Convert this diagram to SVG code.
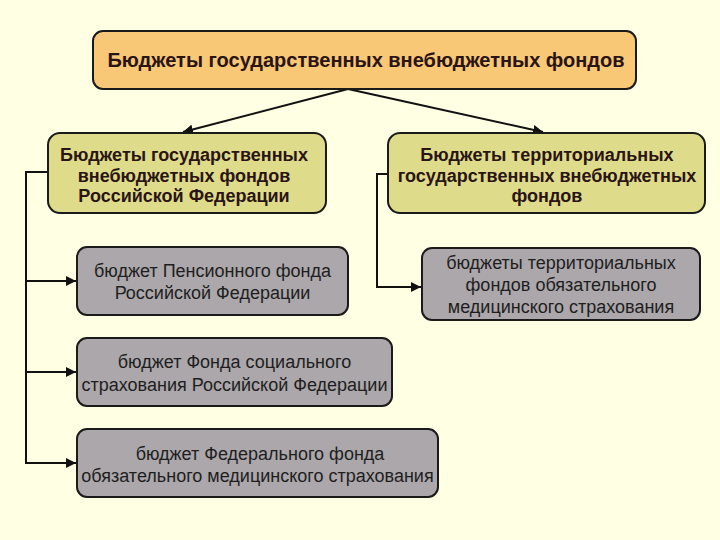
<svg xmlns="http://www.w3.org/2000/svg" width="720" height="540" viewBox="0 0 720 540">
<defs>
<style>
.bg{fill:#FFFFE3}
.top{fill:#F9C877;stroke:#1a1a1a;stroke-width:2}
.mid{fill:#DEDC8A;stroke:#1a1a1a;stroke-width:2}
.sub{fill:#ABA7AA;stroke:#1a1a1a;stroke-width:2}
.tb{font-family:"Liberation Sans",Arial,sans-serif;font-weight:bold;fill:#2B1414;text-anchor:middle;font-size:18px}
.tn{font-family:"Liberation Sans",Arial,sans-serif;fill:#1E1E1E;text-anchor:middle;font-size:18px}
.con{fill:none;stroke:#111;stroke-width:2}
</style>
<marker id="ah" viewBox="0 0 10 10" refX="10" refY="5" markerWidth="5" markerHeight="5" orient="auto" markerUnits="strokeWidth">
<path d="M0,0 L10,5 L0,10 z" fill="#111"/>
</marker>
</defs>
<rect class="bg" x="0" y="0" width="720" height="540"/>
<g id="connectors">
<path class="con" d="M348,89 L183,132" marker-end="url(#ah)"/>
<path class="con" d="M348,89 L543,132" marker-end="url(#ah)"/>
<path class="con" d="M48,172 L26,172 L26,464"/>
<path class="con" d="M26,281 L76,281" marker-end="url(#ah)"/>
<path class="con" d="M26,372 L76,372" marker-end="url(#ah)"/>
<path class="con" d="M26,463 L76,463" marker-end="url(#ah)"/>
<path class="con" d="M388,174 L377,174 L377,287 L421,287" marker-end="url(#ah)"/>
</g>
<g id="top">
<rect class="top" x="93" y="31" width="543" height="58" rx="10"/>
<text class="tb" x="366" y="67" style="font-size:20px">Бюджеты государственных внебюджетных фондов</text>
</g>
<g id="federal">
<rect class="mid" x="48" y="133" width="278" height="80" rx="12"/>
<text class="tb" x="184" y="161">Бюджеты государственных</text>
<text class="tb" x="184" y="182">внебюджетных фондов</text>
<text class="tb" x="184" y="202">Российской Федерации</text>
</g>
<g id="territorial">
<rect class="mid" x="388" y="133" width="317" height="80" rx="12"/>
<text class="tb" x="547" y="161">Бюджеты территориальных</text>
<text class="tb" x="547" y="182">государственных внебюджетных</text>
<text class="tb" x="547" y="202">фондов</text>
</g>
<g id="pension">
<rect class="sub" x="77" y="247" width="271" height="68" rx="10"/>
<text class="tn" x="212.5" y="277">бюджет Пенсионного фонда</text>
<text class="tn" x="212.5" y="299">Российской Федерации</text>
</g>
<g id="social">
<rect class="sub" x="77" y="338" width="315" height="68" rx="10"/>
<text class="tn" x="234.5" y="368">бюджет Фонда социального</text>
<text class="tn" x="234.5" y="391">страхования Российской Федерации</text>
</g>
<g id="ffoms">
<rect class="sub" x="77" y="429" width="361" height="68" rx="10"/>
<text class="tn" x="260" y="460">бюджет Федерального фонда</text>
<text class="tn" x="257.5" y="482">обязательного медицинского страхования</text>
</g>
<g id="tfoms">
<rect class="sub" x="422" y="248" width="278" height="72" rx="10"/>
<text class="tn" x="561" y="269">бюджеты территориальных</text>
<text class="tn" x="561" y="291">фондов обязательного</text>
<text class="tn" x="561" y="313">медицинского страхования</text>
</g>
</svg>
